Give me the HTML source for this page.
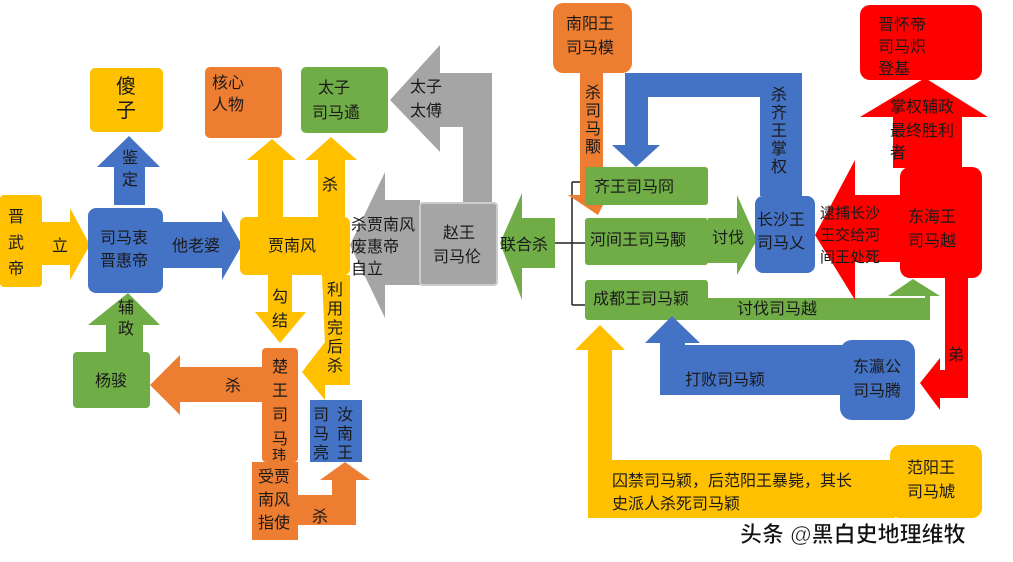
<!DOCTYPE html>
<html><head><meta charset="utf-8"><style>
html,body{margin:0;padding:0;background:#fff;}
svg{display:block;}
text{font-family:"Liberation Sans","Noto Sans CJK SC",sans-serif;font-size:16px;fill:#1a1a1a;}
</style></head><body>
<svg width="1013" height="562" viewBox="0 0 1013 562" xmlns="http://www.w3.org/2000/svg">
<g stroke="none">
<rect x="0" y="195" width="42" height="92" rx="4" fill="#FFC000"/>
<polygon points="42,222 70,222 70,208 90,245 70,280 70,265 42,265" fill="#FFC000"/>
<rect x="88" y="208" width="75" height="85" rx="8" fill="#4472C4"/>
<polygon points="163,222 222,222 222,210 242,245 222,280 222,268 163,268" fill="#4472C4"/>
<rect x="90" y="68" width="73" height="64" rx="5" fill="#FFC000"/>
<polygon points="129,136 160,167 145,167 145,205 114,205 114,167 97,167" fill="#4472C4"/>
<polygon points="128,293 160,325 143,325 143,352 106,352 106,325 88,325" fill="#70AD47"/>
<rect x="73" y="352" width="77" height="56" rx="4" fill="#70AD47"/>
<rect x="240" y="217" width="110" height="58" rx="6" fill="#FFC000"/>
<rect x="205" y="67" width="77" height="71" rx="5" fill="#ED7D31"/>
<polygon points="272,139 296,160 283,160 283,217 258,217 258,160 247,160" fill="#FFC000"/>
<rect x="301" y="67" width="87" height="66" rx="5" fill="#70AD47"/>
<polygon points="331,137 357,160 345,160 345,217 318,217 318,160 305,160" fill="#FFC000"/>
<polygon points="390,100 440,45 440,73 492,73 492,203 463,203 463,127 440,127 440,152" fill="#A5A5A5"/>
<polygon points="350,245 385,172 385,200 420,200 420,285 385,285 385,318" fill="#A5A5A5"/>
<rect x="420" y="203" width="77" height="82" rx="3" fill="#A5A5A5" stroke="#ccc" stroke-width="2"/>
<polygon points="268,275 292,275 292,312 306,312 280,343 255,312 268,312" fill="#FFC000"/>
<polygon points="322,275 350,275 350,385 325,385 325,400 302,372 325,342 325,345" fill="#FFC000"/>
<rect x="262" y="348" width="36" height="114" rx="4" fill="#ED7D31"/>
<polygon points="150,385 180,355 180,367 262,367 262,402 180,402 180,415" fill="#ED7D31"/>
<rect x="310" y="400" width="52" height="62" fill="#4472C4"/>
<rect x="252" y="462" width="46" height="78" fill="#ED7D31"/>
<polygon points="298,495 332,495 332,480 320,480 345,462 370,480 356,480 356,525 298,525" fill="#ED7D31"/>
<polygon points="500,243 522,193 522,218 555,218 555,268 522,268 522,300" fill="#70AD47"/>
<path d="M555,243 H572 M572,182 V305 M572,182 H586 M572,305 H586 M572,243 H586" stroke="#222" stroke-width="1.5" fill="none"/>
<rect x="553" y="3" width="79" height="70" rx="10" fill="#ED7D31"/>
<polygon points="580,73 603,73 603,195 608,195 598,215 568,195 580,195" fill="#ED7D31"/>
<rect x="585" y="167" width="123" height="38" rx="3" fill="#70AD47"/>
<rect x="585" y="218" width="123" height="47" rx="3" fill="#70AD47"/>
<polygon points="708,218 737,218 737,195 757,240 737,275 737,263 708,263" fill="#70AD47"/>
<rect x="585" y="280" width="123" height="40" rx="3" fill="#70AD47"/>
<polygon points="700,298 925,298 925,296 888,296 913,279 940,296 930,296 930,320 700,320" fill="#70AD47"/>
<polygon points="760,196 802,196 802,73 625,73 625,145 612,145 636,167 660,145 648,145 648,97 760,97" fill="#4472C4"/>
<rect x="755" y="196" width="60" height="77" rx="8" fill="#4472C4"/>
<rect x="860" y="5" width="122" height="75" rx="10" fill="#FF0000"/>
<polygon points="925,78 988,117 962,117 962,168 893,168 893,117 860,117" fill="#FF0000"/>
<polygon points="815,235 855,160 855,195 900,195 900,262 855,262 855,300" fill="#FF0000"/>
<rect x="900" y="167" width="82" height="111" rx="10" fill="#FF0000"/>
<polygon points="945,278 968,278 968,398 940,398 940,410 920,383 940,358 940,370 945,370" fill="#FF0000"/>
<polygon points="660,395 845,395 845,345 685,345 685,343 700,343 672,316 645,343 660,343" fill="#4472C4"/>
<rect x="840" y="340" width="75" height="80" rx="12" fill="#4472C4"/>
<polygon points="588,518 895,518 895,460 612,460 612,350 625,350 600,325 575,350 588,350" fill="#FFC000"/>
<rect x="890" y="445" width="92" height="73" rx="10" fill="#FFC000"/>
</g>
<g>
<text x="8" y="222">晋</text><text x="8" y="248">武</text><text x="8" y="274">帝</text>
<text x="52" y="251">立</text>
<text x="100" y="243">司马衷</text><text x="100" y="266">晋惠帝</text>
<text x="172" y="251">他老婆</text>
<text x="116" y="93" style="font-size:20px">傻</text><text x="116" y="117" style="font-size:20px">子</text>
<text x="122" y="163">鉴</text><text x="122" y="185">定</text>
<text x="118" y="313">辅</text><text x="118" y="334">政</text>
<text x="95" y="386">杨骏</text>
<text x="268" y="251">贾南风</text>
<text x="212" y="88">核心</text><text x="212" y="110">人物</text>
<text x="318" y="93">太子</text><text x="312" y="118">司马遹</text>
<text x="322" y="190">杀</text>
<text x="410" y="92">太子</text><text x="410" y="116">太傅</text>
<text x="351" y="230">杀贾南风</text><text x="351" y="252">废惠帝</text><text x="351" y="274">自立</text>
<text x="443" y="238">赵王</text><text x="433" y="262">司马伦</text>
<text x="272" y="302">勾</text><text x="272" y="326">结</text>
<text x="327" y="295">利</text><text x="327" y="314">用</text><text x="327" y="333">完</text><text x="327" y="352">后</text><text x="327" y="371">杀</text>
<text x="272" y="372">楚</text><text x="272" y="396">王</text><text x="272" y="420">司</text><text x="272" y="444">马</text><text x="272" y="460" style="font-size:14px">玮</text>
<text x="225" y="391">杀</text>
<text x="337" y="420">汝</text><text x="337" y="439">南</text><text x="337" y="458">王</text>
<text x="313" y="420">司</text><text x="313" y="439">马</text><text x="313" y="458">亮</text>
<text x="258" y="482">受贾</text><text x="258" y="505">南风</text><text x="258" y="528">指使</text>
<text x="312" y="522">杀</text>
<text x="500" y="250">联合杀</text>
<text x="566" y="29">南阳王</text><text x="566" y="53">司马模</text>
<text x="585" y="98">杀</text><text x="585" y="116">司</text><text x="585" y="134">马</text><text x="585" y="152">颙</text>
<text x="594" y="192">齐王司马冏</text>
<text x="590" y="245">河间王司马颙</text>
<text x="712" y="243">讨伐</text>
<text x="757" y="225">长沙王</text><text x="757" y="248">司马乂</text>
<text x="593" y="304">成都王司马颖</text>
<text x="737" y="314">讨伐司马越</text>
<text x="771" y="100">杀</text><text x="771" y="118">齐</text><text x="771" y="136">王</text><text x="771" y="154">掌</text><text x="771" y="172">权</text>
<text x="878" y="30">晋怀帝</text><text x="878" y="52">司马炽</text><text x="878" y="74">登基</text>
<text x="890" y="112">掌权辅政</text><text x="890" y="136">最终胜利</text><text x="890" y="158">者</text>
<text x="820" y="218" style="font-size:15px">逮捕长沙</text><text x="820" y="240" style="font-size:15px">王交给河</text><text x="820" y="262" style="font-size:15px">间王处死</text>
<text x="908" y="222">东海王</text><text x="908" y="246">司马越</text>
<text x="948" y="360">弟</text>
<text x="685" y="385">打败司马颖</text>
<text x="853" y="372">东瀛公</text><text x="853" y="396">司马腾</text>
<text x="612" y="486">囚禁司马颖，后范阳王暴毙，其长</text><text x="612" y="509">史派人杀死司马颖</text>
<text x="907" y="473">范阳王</text><text x="907" y="497">司马虓</text>
<text x="740" y="542" style="font-size:22px;fill:#111;stroke:#fff;stroke-width:0.6;font-weight:bold">头条 @黑白史地理维牧</text>
</g>
</svg>
</body></html>
